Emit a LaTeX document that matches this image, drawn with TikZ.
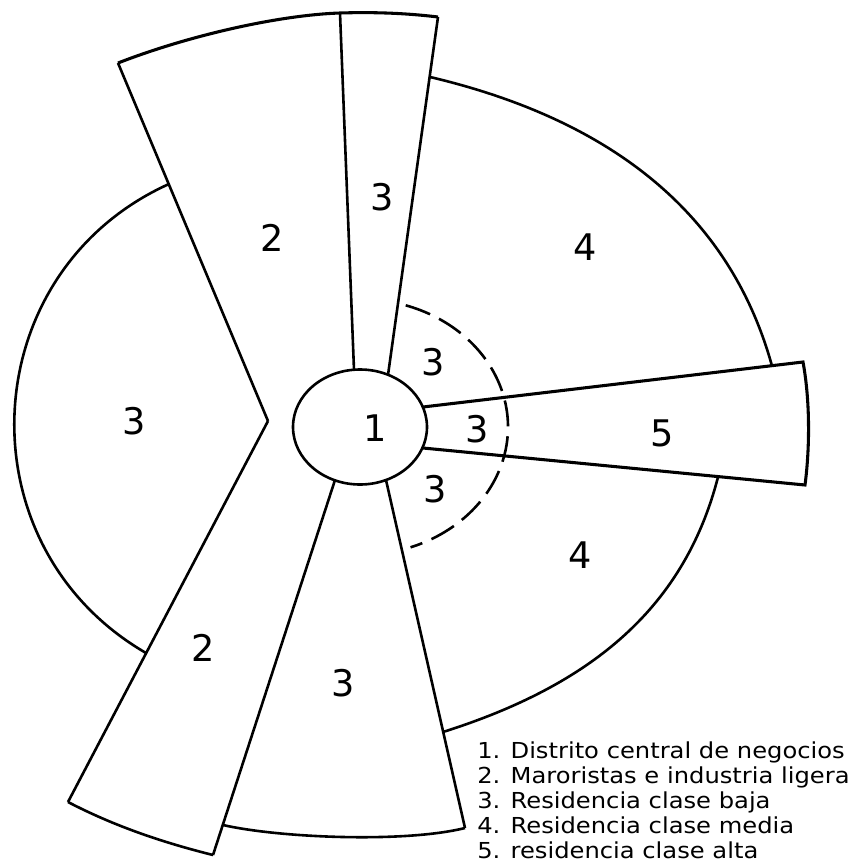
\documentclass[tikz,border=0pt]{standalone}
\usepackage{fontspec}
\newfontfamily\zonefont{DejaVu Sans}
\newfontfamily\legendfont[FakeStretch=1.1]{DejaVu Sans}

\tikzset{every picture/.style={line width=1.95pt}}
\tikzset{zone/.style={inner sep=0.75pt, font=\zonefont\fontsize{27.5}{33}\selectfont},
  legend/.style={anchor=base west, inner sep=0pt, font=\legendfont\fontsize{16.5}{18.75}\selectfont}}

\begin{document}
\begin{tikzpicture}[x=0.75pt,y=0.75pt,yscale=-1,xscale=1]
    \useasboundingbox (0,0) rectangle (853,863);
    %Shape: Ellipse
    \draw   (360,427) ellipse (67 and 57.5) ;
    %Straight Lines
    \draw    (268,421) -- (118,63) ;
    %Curve Lines
    \draw  [line width=2.3pt]  (118,63) .. controls (190,35) and (280,15) .. (340,13) .. controls (373,12) and (405,13) .. (438,17) ;
    %Straight Lines
    \draw    (340,13) -- (354,370) ;
    %Straight Lines
    \draw    (438,17) -- (388,375) ;
    %Straight Lines
    \draw    (268,421) -- (68,802) ;
    %Curve Lines
    \draw    (68,802) .. controls (116,827) and (165,843) .. (213,855) ;
    %Straight Lines
    \draw    (213,855) -- (335,480) ;
    %Straight Lines
    \draw    (386,480) -- (465,828) ;
    %Curve Lines
    \draw    (223,825) .. controls (280,838) and (405,843) .. (465,828) ;
    %Curve Lines
    \draw    (169,184) .. controls (-26,272) and (-40,545) .. (146,653) ;
    %Curve Lines
    \draw    (430,77) .. controls (612,120) and (730,214) .. (772,366) ;
    %Curve Lines
    \draw    (718,477) .. controls (683,613) and (585,687) .. (443,732) ;
    %Shape: Polygon Curved
    \draw  [line width=2.3pt]  (423,407) -- (803,362) .. controls (810,400) and (810,447) .. (805,485) -- (423,448) ;
    %Shape: Arc
    \draw  [dash pattern={on 19.5pt off 7.5pt}]  (405.7,305.3) arc [start angle=-72, end angle=70, x radius=148, y radius=128] ;

    % Text Node
    \node (cbd) at (375,428) [zone] {1};
    % Text Node
    \node (low top) at (382,197) [zone] {3};
    % Text Node
    \node (whole top) at (272,238) [zone] {2};
    % Text Node
    \node (mid top) at (585,247) [zone] {4};
    % Text Node
    \node (low left) at (134,421) [zone] {3};
    % Text Node
    \node (ring a) at (433,362) [zone] {3};
    % Text Node
    \node (ring b) at (477,429) [zone] {3};
    % Text Node
    \node (ring c) at (435,489) [zone] {3};
    % Text Node
    \node (high) at (662,433) [zone] {5};
    % Text Node
    \node (mid low) at (580,555) [zone] {4};
    % Text Node
    \node (whole low) at (203,648) [zone] {2};
    % Text Node
    \node (low bottom) at (343,683) [zone] {3};

    % Text Node
    \node (leg1) at (476,758) [legend] {1. Distrito central de negocios};
    % Text Node
    \node (leg2) at (476,783) [legend] {2. Maroristas e industria ligera};
    % Text Node
    \node (leg3) at (476,808) [legend] {3. Residencia clase baja};
    % Text Node
    \node (leg4) at (476,833) [legend] {4. Residencia clase media};
    % Text Node
    \node (leg5) at (476,858) [legend] {5. residencia clase alta};
\end{tikzpicture}
\end{document}
